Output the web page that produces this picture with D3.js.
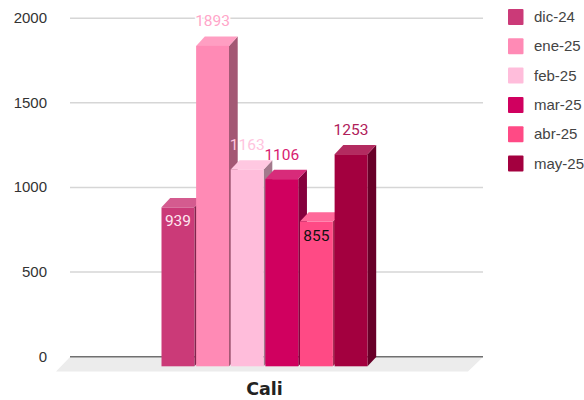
<!DOCTYPE html>
<html><head><meta charset="utf-8">
<script src="https://cdn.jsdelivr.net/npm/d3@7"></script>
<style>html,body{margin:0;padding:0;background:#fff}svg{display:block}</style></head>
<body><svg id="c" width="584" height="400"></svg>
<script>
const months = ["dic-24","ene-25","feb-25","mar-25","abr-25","may-25"];
const values = [939,1893,1163,1106,855,1253];
const colors = ["#cb3a78","#ff8ab5","#ffbddb","#d0005f","#ff4a85","#a3003f"];
const labelColors = ["#ffe6f0","#ffa6c9","#ffc4de","#d81b70","#111111","#b0205a"];
const labelInside = [true,false,false,false,true,false];
const ticks = [0,500,1000,1500,2000];
const category = "Cali";

const svg = d3.select("#c");
const dx = 8.7, dy = 9.3;
const yFront = d3.scaleLinear().domain([0,2000]).range([366.3,27.8]);
const y = v => yFront(v) - dy - 0.3;
const x = d3.scaleBand().domain(months).range([161.5,367.5]).paddingInner(0.05).paddingOuter(0);

// floor
svg.append("path").attr("fill","#ececec")
  .attr("d",d3.line()([[70,357],[483,357],[468,371.5],[56,371.5]])+"Z");

// grid
svg.append("g").selectAll("line").data(ticks.filter(d=>d>0)).join("line")
  .attr("x1",70).attr("x2",483).attr("y1",y).attr("y2",y)
  .attr("stroke","#d6d6d6").attr("stroke-width",1.5);
svg.append("line").attr("x1",70).attr("x2",483).attr("y1",y(0)).attr("y2",y(0))
  .attr("stroke","#707070").attr("stroke-width",1.5);

// tick labels
svg.append("g").selectAll("text").data(ticks).join("text")
  .attr("x",47).attr("y",d=>y(d)+5).attr("text-anchor","end")
  .attr("font-family","Liberation Sans").attr("font-size",15).attr("fill","#333")
  .text(d=>d);

// label halos sit behind the bars so they only break the grid
const labelY = (v,i)=> labelInside[i] ? yFront(v)+19 : yFront(v)-19.5;
svg.append("g").selectAll("text").data(values).join("text")
  .attr("x",(d,i)=>x(months[i])+x.bandwidth()/2).attr("y",labelY)
  .attr("text-anchor","middle").attr("font-family","Roboto").attr("font-size",15.5)
  .attr("fill","none").attr("stroke","#fff").attr("stroke-width",3).text(d=>d);

// bars
const bars = svg.append("g").selectAll("g").data(values).join("g");
const mix = (c,t,k)=>d3.interpolateRgb(c,t)(k);
bars.append("path").attr("fill",(d,i)=>mix(colors[i],"#000",0.36))
  .attr("d",(d,i)=>{const r=x(months[i])+x.bandwidth(),t=yFront(d),b=yFront(0);
    return d3.line()([[r,t],[r+dx,t-dy],[r+dx,b-dy],[r,b]])+"Z";});
bars.append("path").attr("fill",(d,i)=>mix(colors[i],"#fff",0.17))
  .attr("d",(d,i)=>{const l=x(months[i]),r=l+x.bandwidth(),t=yFront(d);
    return d3.line()([[l,t],[l+dx,t-dy],[r+dx,t-dy],[r,t]])+"Z";});
bars.append("rect").attr("fill",(d,i)=>colors[i])
  .attr("x",(d,i)=>x(months[i])).attr("width",x.bandwidth())
  .attr("y",d=>yFront(d)).attr("height",d=>yFront(0)-yFront(d));

// value labels
svg.append("g").selectAll("text").data(values).join("text")
  .attr("x",(d,i)=>x(months[i])+x.bandwidth()/2).attr("y",labelY)
  .attr("text-anchor","middle").attr("font-family","Roboto").attr("font-size",15.5)
  .attr("fill",(d,i)=>labelColors[i]).text(d=>d);

// category
svg.append("text").attr("x",264.5).attr("y",395).attr("text-anchor","middle")
  .attr("font-family","DejaVu Sans").attr("font-weight","bold").attr("font-size",17.5)
  .attr("fill","#222").text(category);

// legend
const ly = d3.scalePoint().domain(months).range([17,163.5]);
const lg = svg.append("g").selectAll("g").data(months).join("g");
lg.append("rect").attr("x",508).attr("y",d=>ly(d)-8).attr("width",15.5).attr("height",16).attr("rx",1)
  .attr("fill",(d,i)=>colors[i]);
lg.append("text").attr("x",534).attr("y",d=>ly(d)+5).attr("font-family","Liberation Sans")
  .attr("font-size",15).attr("fill","#444").text(d=>d);
</script></body></html>
